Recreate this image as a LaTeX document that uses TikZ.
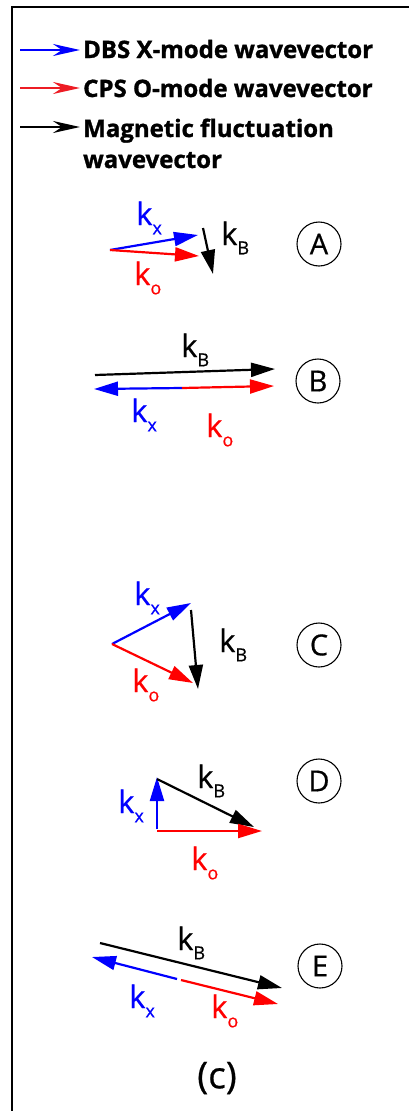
\documentclass[tikz,border=0pt]{standalone}
\usepackage{fontspec}
\setmainfont{Open Sans}
\newfontfamily\legfont[FakeBold=1.2]{Open Sans Bold}
\newfontfamily\kfont[FakeBold=0.6]{Open Sans}
\usetikzlibrary{arrows.meta}
\definecolor{legred}{RGB}{237,28,36}
\newcommand{\kvec}[1]{k\raisebox{-0.3em}{\fontsize{18}{18}\selectfont #1}}
\tikzset{
  vec/.style={line width=2.2pt,-{Triangle[length=24pt,width=14pt]}},
  legvec/.style={line width=2.6pt,-{Stealth[length=27pt,width=12pt,inset=9pt]}},
  klabel/.style={anchor=base west,inner sep=0pt,font=\kfont\fontsize{31}{31}\selectfont},
  tag/.style={circle,draw,line width=1.1pt,minimum size=44pt,inner sep=0pt,font=\kfont\fontsize{29}{29}\selectfont},
  legtext/.style={anchor=base west,inner sep=0pt,font=\legfont\fontsize{24}{24}\selectfont},
}
\begin{document}
\begin{tikzpicture}[x=1pt,y=-1pt]
\useasboundingbox (0,0) rectangle (409,1111);
% frame
\coordinate (fr1) at (409,7);
\coordinate (fr2) at (12,7);
\coordinate (fr3) at (12,1111);
\draw[line width=1.5pt] (fr1) -- (fr2) -- (fr3);

% legend
\coordinate (l1a) at (20,50); \coordinate (l1b) at (80,50);
\coordinate (l2a) at (20,88); \coordinate (l2b) at (80,88);
\coordinate (l3a) at (20,127); \coordinate (l3b) at (80,127);
\draw[legvec,blue] (l1a) -- (l1b);
\draw[legvec,legred] (l2a) -- (l2b);
\draw[legvec,black] (l3a) -- (l3b);
\node[legtext] (t1) at (83,58) {DBS X-mode wavevector};
\node[legtext] (t2) at (83,97) {CPS O-mode wavevector};
\node[legtext] (t3) at (83,137) {Magnetic fluctuation};
\node[legtext] (t4) at (83,168) {wavevector};

% panel A
\coordinate (Ao) at (110,250);
\coordinate (Ax) at (198,235);
\coordinate (Ak) at (199,256);
\coordinate (Ab1) at (203,228);
\coordinate (Ab2) at (213,274);
\draw[vec,blue] (Ao) -- (Ax);
\draw[vec,red] (Ao) -- (Ak);
\draw[vec,black] (Ab1) -- (Ab2);
\node[klabel,blue] (Alx) at (136,225) {\kvec{x}};
\node[klabel,red] (Alo) at (134,285) {\kvec{o}};
\node[klabel] (Alb) at (221,245) {\kvec{B}};
\node[tag] (A) at (319,244) {A};

% panel B
\coordinate (Bb1) at (95,375);
\coordinate (Bb2) at (275,369);
\coordinate (Bo) at (182,388);
\coordinate (Bx) at (94,389);
\coordinate (Bk) at (274,386);
\draw[vec,black] (Bb1) -- (Bb2);
\draw[vec,blue] (Bo) -- (Bx);
\draw[vec,red] (Bo) -- (Bk);
\node[klabel] (Blb) at (181,357) {\kvec{B}};
\node[klabel,blue] (Blx) at (131,422) {\kvec{x}};
\node[klabel,red] (Blo) at (206,437) {\kvec{o}};
\node[tag] (B) at (318,381) {B};

% panel C
\coordinate (Co) at (112,644);
\coordinate (Cx) at (191,603);
\coordinate (Ck) at (193,683);
\coordinate (Cb1) at (191,610);
\coordinate (Cb2) at (198,689);
\draw[vec,blue] (Co) -- (Cx);
\draw[vec,red] (Co) -- (Ck);
\draw[vec,black] (Cb1) -- (Cb2);
\node[klabel,blue] (Clx) at (134,605) {\kvec{x}};
\node[klabel] (Clb) at (219,652) {\kvec{B}};
\node[klabel,red] (Clo) at (132,692) {\kvec{o}};
\node[tag] (C) at (319,645) {C};

% panel D
\coordinate (Dx1) at (157,829);
\coordinate (Dx2) at (157,777);
\coordinate (Db1) at (157,779);
\coordinate (Db2) at (254,827);
\coordinate (Dk1) at (157,831);
\coordinate (Dk2) at (262,831);
\draw[vec,blue] (Dx1) -- (Dx2);
\draw[vec,black] (Db1) -- (Db2);
\draw[vec,red] (Dk1) -- (Dk2);
\node[klabel,blue] (Dlx) at (118,813) {\kvec{x}};
\node[klabel] (Dlb) at (197,788) {\kvec{B}};
\node[klabel,red] (Dlo) at (191,870) {\kvec{o}};
\node[tag] (D) at (319,781) {D};

% panel E
\coordinate (Eb1) at (100,943);
\coordinate (Eb2) at (282,988);
\coordinate (Exo) at (177,979);
\coordinate (Ex) at (92,957);
\coordinate (Eko) at (181,980);
\coordinate (Ek) at (278,1004);
\draw[vec,black] (Eb1) -- (Eb2);
\draw[vec,blue] (Exo) -- (Ex);
\draw[vec,red] (Eko) -- (Ek);
\node[klabel] (Elb) at (177,950) {\kvec{B}};
\node[klabel,blue] (Elx) at (129,1008) {\kvec{x}};
\node[klabel,red] (Elo) at (211,1018) {\kvec{o}};
\node[tag] (E) at (320,966) {E};

% caption
\node[font=\kfont\fontsize{37}{37}\selectfont,inner sep=0pt] (cap) at (217,1078) {(c)};
\end{tikzpicture}
\end{document}
